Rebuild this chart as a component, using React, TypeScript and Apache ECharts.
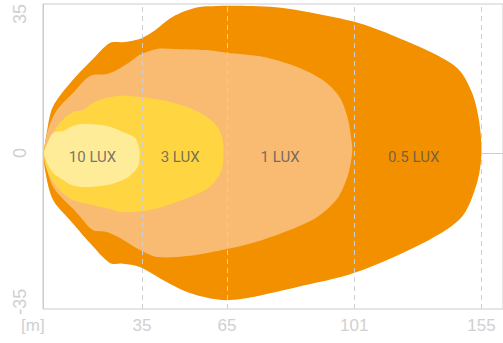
import React, { useEffect, useRef } from "react";
import * as echarts from "echarts";

// Axis extents (metres)
const xMin = 0;
const xMax = 162.6;
const yMin = -39.3;
const yMax = 37.5;

// Tick positions and labels
const xTickPositions = [35, 65, 110, 155];
const xTickLabels = ["35", "65", "101", "155"];
const yTickPositions = [-37.5, 0, 35];
const yTickLabels = ["-35", "0", "35"];
const xUnitLabel = "[m]";

// Zone outlines [x (m), y (m)]
const lux05Outline = [
  [0.35, 0], [1.3, 5.0], [3.5, 11.6], [10.6, 18.4], [17.3, 23.4], [23.6, 27.7],
  [28.2, 27.9], [34.2, 28.7], [38.8, 30.5], [45.9, 34.3], [54.3, 36.6], [61.4, 37.0],
  [72.0, 37.0], [80.1, 36.8], [89.6, 36.0], [110.1, 33.0], [124.9, 29.2], [139.0, 24.7],
  [147.1, 20.9], [151.7, 15.1], [154.1, 8.3], [155.0, 0], [153.4, -7.6], [148.1, -16.1],
  [136.5, -21.9], [110.1, -30.2], [89.6, -33.8], [70.0, -36.8], [62.4, -37.0],
  [51.9, -35.3], [43.7, -32.5], [34.2, -28.7], [28.2, -27.9], [23.6, -27.7],
  [16.6, -22.7], [9.5, -16.9], [3.5, -11.8], [0.7, -4.3],
];
const lux1Outline = [
  [0.35, 0], [1.76, 5.8], [4.94, 10.8], [10.58, 15.1], [16.6, 19.4], [22.6, 19.9],
  [26.1, 20.9], [30.7, 22.9], [34.2, 24.7], [40.2, 26.2], [45.9, 26.2], [57.8, 25.9],
  [64.9, 25.2], [77.6, 24.2], [89.6, 21.7], [98.8, 18.4], [104.8, 14.1], [107.6, 9.1],
  [109.0, 3.3], [109.3, 0], [107.6, -6.0], [103.7, -11.8], [95.2, -16.9], [77.6, -21.9],
  [64.9, -24.2], [51.9, -25.9], [40.2, -26.2], [34.2, -24.4], [27.2, -21.4],
  [22.6, -19.9], [17.6, -19.4], [12.0, -15.1], [4.23, -9.3], [1.41, -4.3],
];
const lux3Outline = [
  [0.35, 0], [1.41, 2.5], [6.0, 7.6], [10.58, 10.3], [14.1, 10.8], [17.6, 12.6],
  [22.6, 13.9], [27.2, 14.4], [34.2, 14.1], [43.7, 13.1], [51.9, 11.3], [57.8, 9.1],
  [61.7, 6.5], [63.5, 3.3], [63.8, 0], [63.1, -4.3], [58.9, -8.6], [49.4, -11.8],
  [37.7, -14.4], [28.2, -14.9], [22.6, -13.9], [14.1, -12.6], [10.23, -11.8],
  [4.94, -8.6], [1.41, -4.3],
];
const lux10Outline = [
  [0.35, 0], [1.06, 1.5], [3.53, 5.0], [7.05, 5.5], [10.58, 6.8], [14.1, 7.3],
  [22.6, 6.8], [28.2, 5.3], [32.5, 3.8], [33.9, 1.5], [34.2, 0], [33.5, -3.5],
  [29.6, -6.3], [22.6, -8.1], [14.1, -8.6], [10.23, -8.1], [7.05, -6.8],
  [3.53, -5.0], [1.41, -2.5],
];

const zoneNames = ["0.5 LUX", "1 LUX", "3 LUX", "10 LUX"];
const zoneOutlines = [lux05Outline, lux1Outline, lux3Outline, lux10Outline];
const zoneColors = ["#F39000", "#F9BA72", "#FFD641", "#FFEC99"];

// Zone label positions
const labelTexts = ["10 LUX", "3 LUX", "1 LUX", "0.5 LUX"];
const labelPositions = [
  [17.5, -0.9],
  [48.5, -0.9],
  [83.8, -1.1],
  [131.0, -1.1],
];

const axisColor = "#cccccc";
const tickTextColor = "#d0d0d0";
const tickFont = "'Liberation Sans', Arial, sans-serif";
const luxFont = "Roboto, 'Liberation Sans', sans-serif";

export default function App() {
  const ref = useRef<HTMLDivElement>(null);
  useEffect(() => {
    if (!ref.current) return;
    const chart = echarts.init(ref.current, undefined, { renderer: "svg" });
    const zoneSeries = zoneOutlines.map((outline, i) => ({
      type: "custom",
      name: zoneNames[i],
      silent: true,
      z: 2 + i,
      data: outline,
      renderItem: (params: any, api: any) => {
        if (params.dataIndex !== 0) return null;
        const pts = outline.map((p) => api.coord(p));
        return {
          type: "polygon",
          shape: { points: pts, smooth: 0.3 },
          style: { fill: zoneColors[i] },
        };
      },
    }));
    chart.setOption({
      animation: false,
      grid: {
        left: 43,
        top: 4,
        right: -1,
        bottom: 34,
        show: true,
        borderColor: axisColor,
        borderWidth: 1,
        backgroundColor: "transparent",
      },
      graphic: [
        {
          type: "text",
          left: 21,
          top: 317,
          silent: true,
          style: {
            text: xUnitLabel,
            fill: tickTextColor,
            fontSize: 17,
            fontFamily: tickFont,
          },
        },
      ],
      xAxis: {
        type: "value",
        min: xMin,
        max: xMax,
        axisLine: { show: true, lineStyle: { color: axisColor } },
        axisTick: { show: false },
        splitLine: { show: false },
        axisLabel: {
          customValues: xTickPositions,
          formatter: (v: number) => {
            const k = xTickPositions.indexOf(v);
            return k >= 0 ? xTickLabels[k] : "";
          },
          color: tickTextColor,
          fontSize: 17,
          fontFamily: tickFont,
          margin: 8,
        },
      },
      yAxis: {
        type: "value",
        min: yMin,
        max: yMax,
        axisLine: { show: true, lineStyle: { color: axisColor } },
        axisTick: { show: false },
        splitLine: { show: false },
        axisLabel: {
          customValues: yTickPositions,
          formatter: (v: number) => {
            const k = yTickPositions.indexOf(v);
            return k >= 0 ? yTickLabels[k] : "";
          },
          rotate: 90,
          color: tickTextColor,
          fontSize: 18,
          fontFamily: tickFont,
          margin: 14,
        },
      },
      series: [
        ...zoneSeries,
        {
          type: "scatter",
          z: 10,
          silent: true,
          symbolSize: 0,
          data: labelPositions.map((p, i) => ({ value: p, name: labelTexts[i] })),
          label: {
            show: true,
            position: "inside",
            formatter: (p: any) => p.name,
            color: "#555555",
            fontSize: 15,
            fontFamily: luxFont,
          },
          markLine: {
            silent: true,
            symbol: ["none", "none"],
            label: { show: false },
            lineStyle: { color: "#cfcfcf", type: [5, 4], width: 1 },
            data: xTickPositions.map((v) => ({ xAxis: v })),
          },
        },
      ],
    });
    return () => chart.dispose();
  }, []);
  return (
    <div
      ref={ref}
      style={{ position: "absolute", left: 0, top: 0, width: 503, height: 343 }}
    />
  );
}
